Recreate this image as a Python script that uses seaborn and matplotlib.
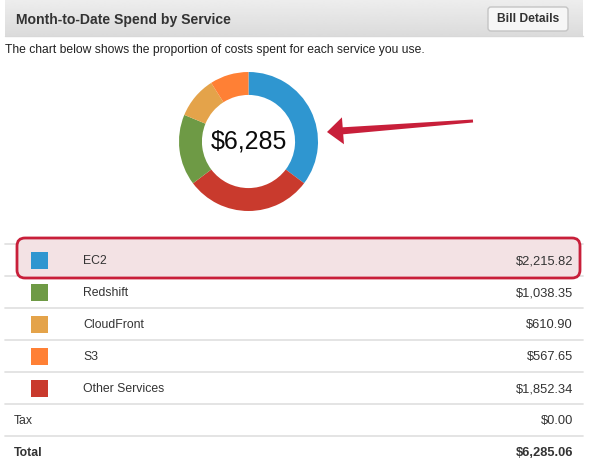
import numpy as np
import seaborn as sns
import matplotlib.pyplot as plt
from matplotlib.patches import FancyBboxPatch, Polygon, Rectangle

# spend per service (month-to-date)
services = ["EC2", "Redshift", "CloudFront", "S3", "Other Services"]
costs = [2215.82, 1038.35, 610.90, 567.65, 1852.34]
colors = ["#2F96D0", "#6E9A45", "#E4A34A", "#FF8035", "#C93A2D"]
tax = 0.00
total = 6285.06
# order of the slices around the ring, clockwise from the top
ring_order = ["EC2", "Other Services", "Redshift", "CloudFront", "S3"]

sns.set_theme(style="white")
plt.rcParams['font.family'] = ['Liberation Sans', 'DejaVu Sans']

W, H = 590, 470
fig = plt.figure(figsize=(W / 100, H / 100), dpi=100)
ax = fig.add_axes([0, 0, 1, 1])
ax.set_xlim(0, W)
ax.set_ylim(H, 0)
ax.axis("off")

# header band with a soft gradient
grad = np.linspace(0.93, 0.86, 50).reshape(-1, 1)
ax.imshow(grad, extent=(5, 583, 36, 0), cmap="gray", vmin=0, vmax=1, aspect="auto", zorder=0)
ax.plot([5, 583], [36, 36], color="#D8D8D8", lw=1)
ax.text(16, 20, "Month-to-Date Spend by Service", fontsize=10.1, fontweight="bold",
        color="#333333", va="center")

# "Bill Details" button
ax.add_patch(FancyBboxPatch((488, 7), 80, 24, boxstyle="round,pad=0,rounding_size=3",
                            fc="#F6F6F6", ec="#C4C4C4", lw=1, zorder=2))
ax.text(528, 19, "Bill Details", fontsize=8.7, fontweight="bold", color="#333333",
        ha="center", va="center", zorder=3)

ax.text(5, 50, "The chart below shows the proportion of costs spent for each service you use.",
        fontsize=8.7, color="#222222", va="center")

# donut chart
cx, cy, r = 248.5, 141.5, 69.5
dax = fig.add_axes([(cx - r) / W, 1 - (cy + r) / H, 2 * r / W, 2 * r / H])
lookup = dict(zip(services, costs))
cmap = dict(zip(services, colors))
dax.pie([lookup[s] for s in ring_order], colors=[cmap[s] for s in ring_order],
        startangle=90, counterclock=False, radius=1,
        wedgeprops=dict(width=0.33, edgecolor="none"))
dax.set_xlim(-1, 1)
dax.set_ylim(-1, 1)
dax.axis("off")
dax.text(0, 0, "${:,.0f}".format(total), fontsize=18, ha="center", va="center", color="#0A0A0A")

# red pointer arrow (tapered shaft)
tail = np.array([473.0, 121.0])
tip = np.array([327.0, 132.0])
d = (tip - tail) / np.linalg.norm(tip - tail)
n = np.array([-d[1], d[0]])
base = tip - d * 16
arrow = [tail + n * 1.5, base + n * 3.5, base + n * 13.5, tip,
         base - n * 13.5, base - n * 3.5, tail - n * 1.5]
ax.add_patch(Polygon(arrow, closed=True, fc="#C81F3A", ec="none", zorder=4))

# table rows
row_h = 32
top = 244
lines = [top + i * row_h for i in range(8)]
for yl in lines[:-1]:
    ax.plot([5, 583], [yl, yl], color="#E2E2E2", lw=1.3, zorder=1)

# EC2 highlight
ax.add_patch(FancyBboxPatch((17, 238), 563, 40, boxstyle="round,pad=0,rounding_size=8",
                            fc="#F3E2E4", ec="#C81F3A", lw=2, zorder=2))

for i, (s, c, col) in enumerate(zip(services, costs, colors)):
    yc = top + row_h * i + row_h / 2
    ax.add_patch(Rectangle((31, yc - 8.5), 17, 17, fc=col, ec="none", zorder=3))
    ax.text(83, yc + 1, s, fontsize=8.8, color="#333333", va="center", zorder=3)
    ax.text(573, yc + 1, "${:,.2f}".format(c), fontsize=9.3, color="#333333",
            va="center", ha="right", zorder=3)

yc = top + row_h * 5 + row_h / 2 + 1
ax.text(14, yc, "Tax", fontsize=8.8, color="#333333", va="center")
ax.text(573, yc, "${:,.2f}".format(tax), fontsize=9.3, color="#333333", va="center", ha="right")
yc = top + row_h * 6 + row_h / 2 + 1
ax.text(14, yc, "Total", fontsize=8.8, fontweight="bold", color="#333333", va="center")
ax.text(573, yc, "${:,.2f}".format(total), fontsize=9.3, fontweight="bold", color="#333333",
        va="center", ha="right")

fig.savefig("out.png", dpi=100)
